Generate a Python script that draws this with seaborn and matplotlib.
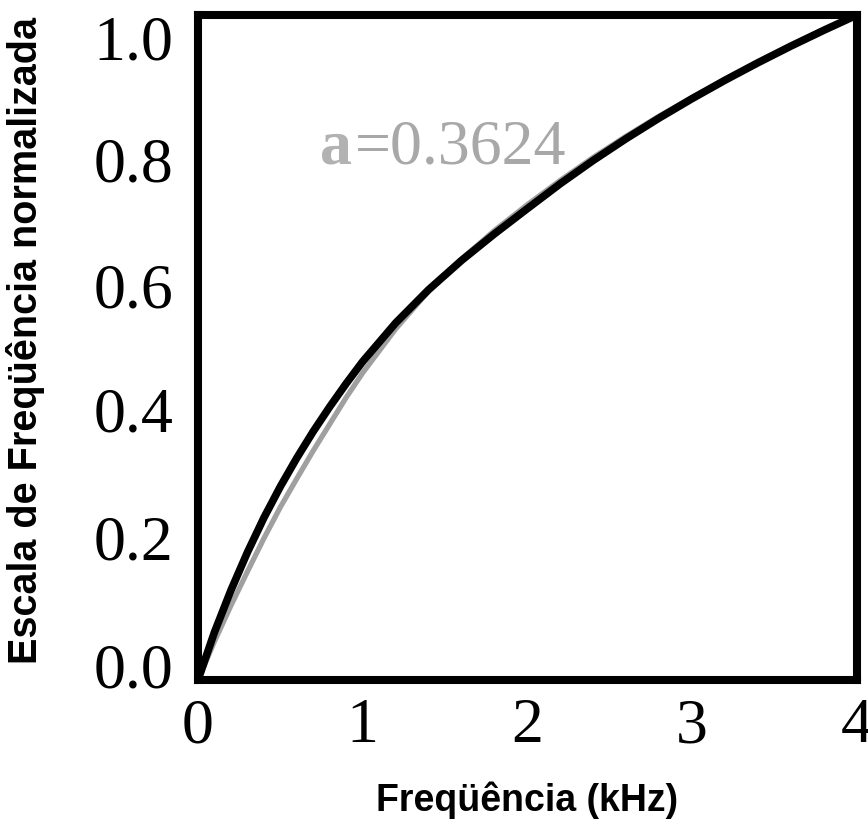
import pandas as pd
import matplotlib
matplotlib.use("Agg")
import matplotlib.pyplot as plt
import matplotlib.transforms as mtransforms
import seaborn as sns

# --- Datos ---
freq_khz = [0.0, 0.1, 0.2, 0.3, 0.4, 0.5, 0.6, 0.7, 0.8, 0.9, 1.0,
            1.2, 1.4, 1.6, 1.8, 2.0, 2.2, 2.4, 2.6, 2.8, 3.0,
            3.2, 3.4, 3.6, 3.8, 4.0]
escala_medida = [0.000, 0.072, 0.135, 0.192, 0.244, 0.291, 0.334, 0.374, 0.411, 0.446, 0.479,
                 0.537, 0.587, 0.631, 0.671, 0.709, 0.7465, 0.7815, 0.8143, 0.8452, 0.8744,
                 0.9021, 0.9284, 0.9534, 0.9772, 1.000]
escala_allpass = [0.000, 0.058, 0.112, 0.163, 0.213, 0.260, 0.303, 0.345, 0.385, 0.425, 0.462,
                  0.528, 0.585, 0.633, 0.676, 0.715, 0.7515, 0.786, 0.818, 0.848, 0.876,
                  0.902, 0.927, 0.9525, 0.9765, 1.000]
xticks = [0, 1, 2, 3, 4]
yticks = [0.0, 0.2, 0.4, 0.6, 0.8, 1.0]
ytick_labels = ["0.0", "0.2", "0.4", "0.6", "0.8", "1.0"]
texto_a = "a"
texto_valor = "=0.3624"

df = pd.DataFrame({"f": freq_khz, "medida": escala_medida, "allpass": escala_allpass})

# ===============================
# Estilo
# ===============================
sns.set_theme(style="white", rc={"text.color": "black", "axes.labelcolor": "black",
                                 "xtick.color": "black", "ytick.color": "black"})
plt.rcParams["font.family"] = ["Liberation Serif", "DejaVu Serif"]

fig = plt.figure(figsize=(8.68, 8.34), dpi=100)
ax = fig.add_axes([198 / 868, 154 / 834, 659 / 868, 665 / 834])

# Curvas: gris (a=0.3624) debajo, negra encima
sns.lineplot(data=df, x="f", y="allpass", color="#a0a0a0", linewidth=3.8, ax=ax)
sns.lineplot(data=df, x="f", y="medida", color="black", linewidth=5.5, ax=ax)

ax.set_xlim(0, 4)
ax.set_ylim(0, 1)
ax.set_xticks(xticks)
ax.set_xticklabels([str(t) for t in xticks])
ax.set_yticks(yticks)
ax.set_yticklabels(ytick_labels)
ax.tick_params(axis="both", length=0, labelsize=46)
ax.tick_params(axis="y", pad=18)
ax.tick_params(axis="x", pad=13)

# desplazamiento vertical de cada etiqueta del eje y (px, positivo = abajo)
desplaz = [-15, -9, -4, 4, 12, 22]
for lab, d in zip(ax.get_yticklabels(), desplaz):
    off = mtransforms.ScaledTranslation(0, -d / 100, fig.dpi_scale_trans)
    lab.set_transform(lab.get_transform() + off)

for sp in ax.spines.values():
    sp.set_visible(True)
    sp.set_color("black")
    sp.set_linewidth(5.8)
    sp.set_capstyle("projecting")

ax.set_xlabel("Freqüência (kHz)", fontsize=27, fontweight="bold",
              family=["Liberation Sans", "DejaVu Sans"])
ax.set_ylabel("Escala de Freqüência normalizada", fontsize=28.5, fontweight="bold",
              family=["Liberation Sans", "DejaVu Sans"])
ax.xaxis.set_label_coords(0.5, -0.152)
ax.yaxis.set_label_coords(-0.232, 0.51)

# Anotación del parámetro
ax.text(0.935, 0.777, texto_a, color="#b2b2b2", fontsize=46, fontweight="bold",
        ha="right", va="baseline")
ax.text(0.95, 0.777, texto_valor, color="#a8a8a8", fontsize=46,
        ha="left", va="baseline")

fig.savefig("out.png", dpi=100)
plt.close(fig)
